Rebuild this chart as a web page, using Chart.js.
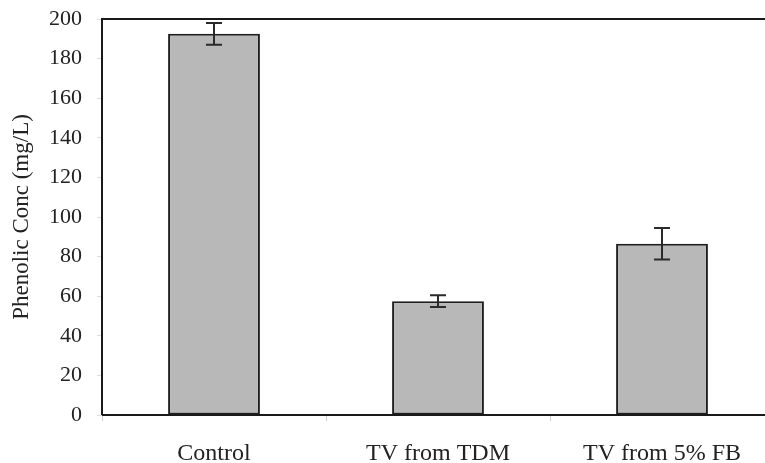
<!DOCTYPE html>
<html>
<head>
<meta charset="utf-8">
<script src="https://cdn.jsdelivr.net/npm/chart.js@4"></script>
<style>
  html, body { margin: 0; padding: 0; background: #fff; overflow: hidden; }
  #wrap { width: 776px; height: 463px; position: relative; }
</style>
</head>
<body>
<div id="wrap"><canvas id="myChart"></canvas></div>
<script>
const categories = ["Control", "TV from TDM", "TV from 5% FB"];
const phenolicConc = [192.5, 57.5, 86.5];
const errors = [5.5, 3, 8];
const yTicks = [0, 20, 40, 60, 80, 100, 120, 140, 160, 180, 200];

const serif = "'Liberation Serif', 'Times New Roman', serif";

const errorBars = {
  id: "errorBars",
  afterDatasetsDraw: (chart) => {
    const ctx = chart.ctx;
    const y = chart.scales.y;
    const meta = chart.getDatasetMeta(0);
    ctx.save();
    ctx.strokeStyle = "#2a2a2a";
    ctx.lineWidth = 2;
    meta.data.forEach((bar, i) => {
      const top = y.getPixelForValue(phenolicConc[i] + errors[i]);
      const bottom = y.getPixelForValue(phenolicConc[i] - errors[i]);
      const cap = 8;
      ctx.beginPath();
      ctx.moveTo(bar.x, top);
      ctx.lineTo(bar.x, bottom);
      ctx.moveTo(bar.x - cap, top);
      ctx.lineTo(bar.x + cap, top);
      ctx.moveTo(bar.x - cap, bottom);
      ctx.lineTo(bar.x + cap, bottom);
      ctx.stroke();
    });
    ctx.restore();
  },
};

const frame = {
  id: "frame",
  afterDraw: (chart) => {
    const { ctx, chartArea } = chart;
    ctx.save();
    ctx.strokeStyle = "#1a1a1a";
    ctx.lineWidth = 2;
    ctx.beginPath();
    ctx.moveTo(chartArea.left, chartArea.bottom);
    ctx.lineTo(chartArea.left, chartArea.top);
    ctx.lineTo(chartArea.right, chartArea.top);
    ctx.moveTo(chartArea.left, chartArea.bottom);
    ctx.lineTo(chartArea.right, chartArea.bottom);
    ctx.stroke();
    ctx.restore();
  },
};

new Chart(document.getElementById("myChart"), {
  type: "bar",
  data: {
    labels: categories,
    datasets: [
      {
        label: "Phenolic Conc",
        data: phenolicConc,
        backgroundColor: "#b8b8b8",
        borderColor: "#1e1e1e",
        borderWidth: 2,
        borderSkipped: false,
        categoryPercentage: 1,
        barPercentage: 0.41,
      },
    ],
  },
  options: {
    responsive: true,
    maintainAspectRatio: false,
    animation: false,
    layout: { padding: { top: 19, right: 2, left: 0, bottom: 0 } },
    scales: {
      y: {
        min: 0,
        max: 200,
        afterBuildTicks: (scale) => {
          scale.ticks = yTicks.map((v) => ({ value: v }));
        },
        afterFit: (scale) => {
          scale.width = 102;
          scale.paddingTop = 0;
          scale.paddingBottom = 0;
        },
        border: { display: false },
        grid: {
          drawOnChartArea: false,
          tickLength: 5,
          color: "#dddddd",
        },
        ticks: {
          color: "#222",
          padding: 15,
          font: { family: serif, size: 22 },
        },
        title: {
          display: true,
          text: "Phenolic Conc (mg/L)",
          color: "#222",
          padding: { top: 8, bottom: 0 },
          font: { family: serif, size: 23 },
        },
      },
      x: {
        afterFit: (scale) => {
          scale.height = 48;
          scale.paddingLeft = 0;
          scale.paddingRight = 0;
        },
        border: { display: false },
        grid: {
          drawOnChartArea: false,
          offset: true,
          tickLength: 6,
          color: "#d0d0d0",
        },
        ticks: {
          color: "#222",
          padding: 18,
          font: { family: serif, size: 24 },
        },
      },
    },
    plugins: {
      legend: { display: false },
      tooltip: { enabled: false },
    },
  },
  plugins: [errorBars, frame],
});
</script>
</body>
</html>
